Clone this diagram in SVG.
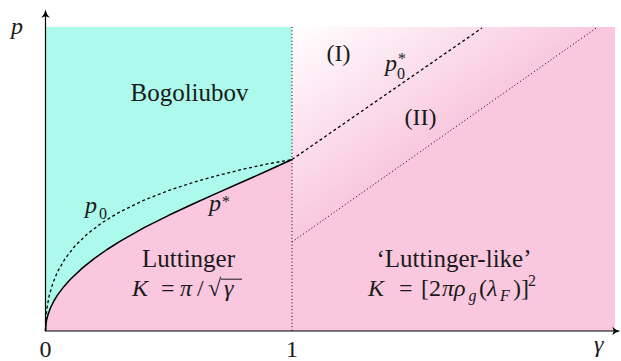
<svg xmlns="http://www.w3.org/2000/svg" width="621" height="361" viewBox="0 0 621 361">
<style>
.t{font-size:24px;fill:#1a1a1a}
.big{font-size:25px}
.m{font-style:italic;fill:#1a1a1a}
.s{font-size:16px}
.ax{stroke:#000;stroke-width:1.2;fill:none}
.dash{stroke:#000;stroke-width:1.3;fill:none;stroke-dasharray:3 2.6}
.dot{stroke:#000;stroke-width:1;fill:none;stroke-dasharray:1 2.4}
.solid{stroke:#000;stroke-width:1.5;fill:none;stroke-linejoin:round}
</style>
<defs>
<linearGradient id="grad" gradientUnits="userSpaceOnUse" x1="292" y1="27" x2="393" y2="171">
<stop offset="0" stop-color="#ffffff"/>
<stop offset="1" stop-color="#F9C8DE"/>
</linearGradient>
</defs>
<g id="regions">
<rect x="45.5" y="27" width="569.5" height="304" fill="#F9C8DE"/>
<path id="bogoliubov-region" fill="#ADF9EC" d="M45.5,331 L46.0,323.7 L46.7,319.5 L48.0,314.7 L50.4,308.0 L54.1,300.5 L57.8,294.6 L64.0,286.4 L70.2,279.5 L82.5,267.9 L94.8,258.1 L107.1,249.5 L119.5,241.7 L144.1,227.7 L168.75,215.3 L193.4,203.7 L218.1,192.6 L242.7,181.8 L267.4,170.8 L292,159.5 L292,27 L45.5,27 Z"/>
<rect id="crossover-region" x="292" y="27" width="323" height="304" fill="url(#grad)"/>
</g>
<g id="connectors">
<path id="gamma1" class="dot" d="M292,27 L292,331"/>
<path id="p-star" class="solid" d="M45.5,331 L46.0,323.7 L46.7,319.5 L48.0,314.7 L50.4,308.0 L54.1,300.5 L57.8,294.6 L64.0,286.4 L70.2,279.5 L82.5,267.9 L94.8,258.1 L107.1,249.5 L119.5,241.7 L144.1,227.7 L168.75,215.3 L193.4,203.7 L218.1,192.6 L242.7,181.8 L267.4,170.8 L292,159.5"/>
<path id="p0" class="dash" d="M45.5,331 L45.75,321.2 L46.0,317.3 L47.0,307.9 L49.2,295.7 L52.9,283.0 L57.8,271.2 L65.2,258.5 L75.1,245.8 L87.4,233.9 L102.2,222.6 L119.5,212.1 L144.1,200.1 L168.75,190.5 L193.4,182.4 L218.1,175.4 L242.7,169.3 L267.4,163.9 L292,159.5"/>
<path id="p0-star" class="dash" d="M292,159.5 L482,28"/>
<path id="boundary-II" class="dot" d="M292,242 L597,27.5"/>
<path id="y-axis" class="ax" d="M45.5,331 L45.5,12"/>
<path id="x-axis" class="ax" d="M45,331 L618,331"/>
<path id="y-arrow" fill="#000" d="M45.5,9.5 Q46.3,14.5 49.8,17.8 Q46.6,16.3 45.5,16.3 Q44.4,16.3 41.2,17.8 Q44.7,14.5 45.5,9.5 Z"/>
<path id="x-arrow" fill="#000" d="M620.5,331 Q615.5,331.8 612.2,335.3 Q613.7,332.1 613.7,331 Q613.7,329.9 612.2,326.7 Q615.5,330.2 620.5,331 Z"/>
</g>
<g font-family="'Liberation Serif', 'Times New Roman', serif">
<g id="axis-labels">
<text class="m" font-size="24" x="11" y="34">p</text>
<text class="t" x="45.5" y="357" text-anchor="middle">0</text>
<text class="t" x="292" y="357" text-anchor="middle">1</text>
<text class="m" font-size="24" x="594" y="352">γ</text>
</g>
<g id="bogoliubov"><text class="t big" x="189.5" y="101" text-anchor="middle">Bogoliubov</text></g>
<g id="luttinger">
<text class="t big" x="188.5" y="267" text-anchor="middle">Luttinger</text>
<text class="t" y="296"><tspan class="m" x="132">K</tspan><tspan x="161">=</tspan><tspan class="m" x="180">π</tspan><tspan x="197">/</tspan><tspan x="208">√</tspan><tspan class="m" x="224">γ</tspan></text>
<line x1="221" y1="279.2" x2="242" y2="279.2" stroke="#1a1a1a" stroke-width="1"/>
</g>
<g id="luttinger-like">
<text class="t big" x="454" y="267" text-anchor="middle">‘Luttinger-like’</text>
<text class="t" y="296"><tspan class="m" x="368">K</tspan><tspan x="399">=</tspan><tspan x="421">[2</tspan><tspan class="m" x="442">πρ</tspan><tspan class="m s" x="468.5" y="301">g</tspan><tspan x="479" y="296">(</tspan><tspan class="m" x="487">λ</tspan><tspan class="m s" x="500" y="301">F</tspan><tspan x="513" y="296">)]</tspan><tspan class="s" x="528" y="286">2</tspan></text>
</g>
<g id="label-p0"><text class="m" font-size="24" x="85" y="213">p<tspan class="s" font-style="normal" x="99" y="219">0</tspan></text></g>
<g id="label-pstar"><text class="m" font-size="24" x="209" y="211">p<tspan class="s" font-style="normal" x="222" y="207">*</tspan></text></g>
<g id="label-p0star"><text class="m" font-size="24" x="385" y="71">p<tspan class="s" font-style="normal" x="397" y="79">0</tspan><tspan class="s" font-style="normal" x="398" y="64">*</tspan></text></g>
<g id="region-I"><text class="t" x="338.5" y="61" text-anchor="middle">(I)</text></g>
<g id="region-II"><text class="t" x="420.5" y="125" text-anchor="middle">(II)</text></g>
</g>
</svg>
